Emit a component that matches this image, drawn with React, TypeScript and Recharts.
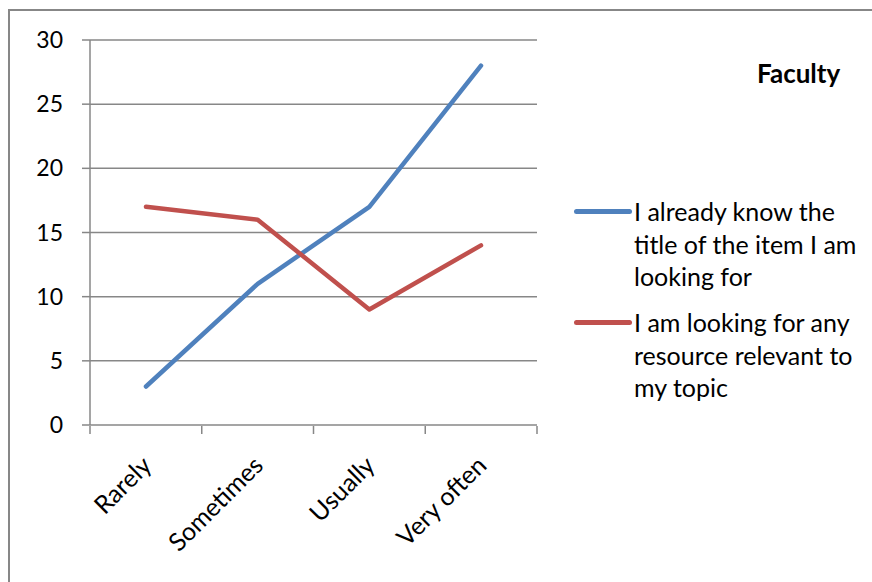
import { LineChart, Line, XAxis, YAxis, CartesianGrid } from "recharts";

const categories = ["Rarely", "Sometimes", "Usually", "Very often"];
const knowTitle = [3, 11, 17, 28];
const anyResource = [17, 16, 9, 14];
const yTicks = [0, 5, 10, 15, 20, 25, 30];
// category boundaries on the row-index axis (0..3 spans the plot width)
const edgeTicks = [0, 0.75, 1.5, 2.25, 3];

const SERIES = [
  {
    key: "knowTitle",
    name: "I already know the title of the item I am looking for",
    color: "#4F81BD",
  },
  {
    key: "anyResource",
    name: "I am looking for any resource relevant to my topic",
    color: "#C0504D",
  },
];

const data = categories.map((name, i) => ({
  name,
  knowTitle: knowTitle[i],
  anyResource: anyResource[i],
}));

const FONT = "Lato, 'Open Sans', sans-serif";
const AXIS = "#878787";

function SlantTick({ x, y, payload }: any) {
  return (
    <g transform={`translate(${x},${y + 35}) rotate(-45)`}>
      <text
        textAnchor="end"
        dominantBaseline="central"
        fontFamily={FONT}
        fontSize={25}
        fill="#000"
      >
        {payload.value}
      </text>
    </g>
  );
}

export default function App() {
  return (
    <div
      style={{
        position: "fixed",
        left: 0,
        top: 0,
        width: 872,
        height: 582,
        overflow: "hidden",
        background: "#fff",
        fontFamily: FONT,
      }}
    >
      <div
        style={{
          position: "absolute",
          left: 8,
          top: 9,
          width: 900,
          height: 600,
          borderLeft: `2px solid ${AXIS}`,
          borderTop: `2px solid ${AXIS}`,
        }}
      />
      <div style={{ position: "absolute", left: 0, top: 0 }}>
        <LineChart
          width={872}
          height={582}
          data={data}
          margin={{ top: 40, right: 335, bottom: 155, left: 0 }}
        >
          <CartesianGrid
            xAxisId="cats"
            vertical={false}
            stroke={AXIS}
            strokeWidth={1.5}
          />
          {/* labels sit on the plot edge; the tick-mark axis stacks right under it */}
          <XAxis
            xAxisId="cats"
            dataKey="name"
            height={1}
            interval={0}
            padding={{ left: 56, right: 56 }}
            axisLine={false}
            tickLine={false}
            tickSize={0}
            tickMargin={0}
            tick={<SlantTick />}
          />
          <XAxis
            xAxisId="edge"
            type="number"
            domain={[0, 3]}
            ticks={edgeTicks}
            interval={0}
            height={1}
            tickSize={8}
            axisLine={false}
            tickLine={{ stroke: AXIS, strokeWidth: 1.5 }}
            tick={() => <g />}
          />
          <YAxis
            width={90}
            domain={[0, 30]}
            ticks={yTicks}
            interval={0}
            tickSize={8}
            tickMargin={19}
            stroke={AXIS}
            strokeWidth={1.5}
            tick={{ fill: "#000", fontSize: 23, fontFamily: FONT }}
          />
          {SERIES.map((s) => (
            <Line
              key={s.key}
              xAxisId="cats"
              dataKey={s.key}
              name={s.name}
              stroke={s.color}
              strokeWidth={4.5}
              strokeLinecap="round"
              strokeLinejoin="round"
              dot={false}
              activeDot={false}
              isAnimationActive={false}
            />
          ))}
        </LineChart>
      </div>
      <div
        style={{
          position: "absolute",
          left: 757,
          top: 60,
          fontSize: 26,
          lineHeight: "26px",
          fontWeight: 700,
        }}
      >
        Faculty
      </div>
      <div style={{ position: "absolute", left: 574, top: 195 }}>
        {SERIES.map((s) => (
          <div key={s.key} style={{ display: "flex", marginBottom: 13.5 }}>
            <div
              style={{
                width: 58,
                height: 5,
                marginTop: 14,
                borderRadius: 3,
                background: s.color,
              }}
            />
            <div
              style={{
                width: 236,
                marginLeft: 2,
                fontSize: 25,
                lineHeight: "32.5px",
              }}
            >
              {s.name}
            </div>
          </div>
        ))}
      </div>
    </div>
  );
}
